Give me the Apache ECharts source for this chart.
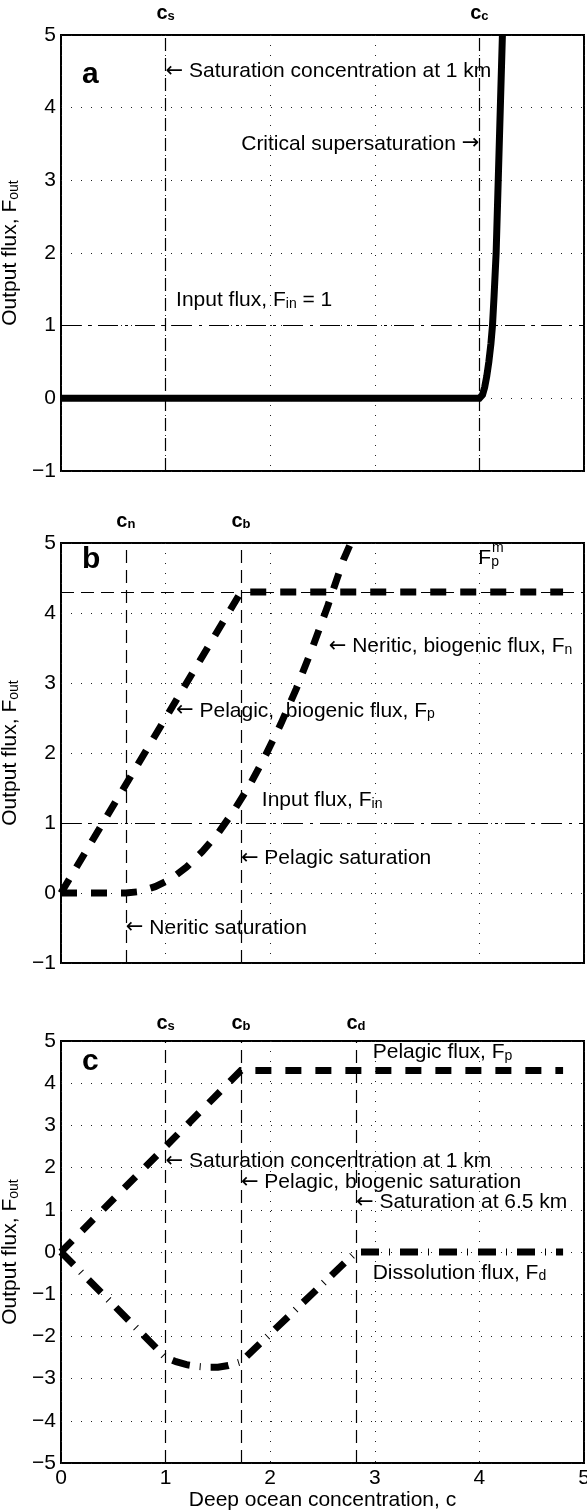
<!DOCTYPE html>
<html>
<head>
<meta charset="utf-8">
<script src="https://cdn.jsdelivr.net/npm/echarts@6/dist/echarts.min.js"></script>
<style>
  html, body { margin: 0; padding: 0; background: #fff; }
  #chart { width: 587px; height: 1510px; }
</style>
</head>
<body>
<div id="chart"></div>
<script>
// ---- values -------------------------------------------------------------
const xTicks = [0, 1, 2, 3, 4, 5];

// characteristic concentrations (x positions of the dashed markers)
const satConc1km = 1.0;     // c_s
const critConc = 4.0;       // c_c
const neriticSat = 0.62;    // c_n
const pelagicSat = 1.72;    // c_b
const deepSat = 2.82;       // c_d

// reference flux levels
const inputFlux = 1;
const pelagicMax = 4.3;     // F_p^m

// panel a: output flux with critical supersaturation
const critX = [0, 4.0, 4.03, 4.05, 4.07, 4.09, 4.11, 4.125, 4.14, 4.16, 4.18, 4.2, 4.22];
const critY = [0, 0, 0.05, 0.15, 0.3, 0.5, 0.75, 1.0, 1.4, 2.0, 3.0, 4.0, 5.0];

// panel b/c: pelagic biogenic flux
const pelagicX = [0, 1.72, 4.8];
const pelagicY = [0, 4.3, 4.3];

// panel b: neritic biogenic flux
const neriticX = [0, 0.62, 0.75, 0.9, 1.05, 1.2, 1.35, 1.5, 1.65, 1.8, 1.95, 2.1, 2.25, 2.4, 2.55, 2.7, 2.77];
const neriticY = [0, 0, 0.02, 0.09, 0.2, 0.37, 0.59, 0.85, 1.17, 1.53, 1.95, 2.41, 2.92, 3.49, 4.1, 4.76, 5.0];

// panel c: dissolution flux
const dissolX = [0, 0.5, 1.0, 1.1, 1.2, 1.3, 1.4, 1.5, 1.6, 1.72, 2.0, 2.3, 2.6, 2.82, 4.8];
const dissolY = [0, -1.25, -2.5, -2.6, -2.67, -2.71, -2.73, -2.73, -2.69, -2.6, -1.94, -1.23, -0.52, 0, 0];

// ---- styling ------------------------------------------------------------
const FONT = '"Liberation Sans", Arial, Helvetica, sans-serif';
const ARROW_FONT = '"DejaVu Sans", sans-serif';
const INK = '#000';
const L = 61, W = 523;
const panels = [
  { top: 35, height: 436, ymin: -1, ymax: 5 },
  { top: 543, height: 420, ymin: -1, ymax: 5 },
  { top: 1041, height: 422, ymin: -5, ymax: 5 }
];

const rich = {
  t: { fontSize: 21, lineHeight: 21, verticalAlign: 'top', fontFamily: FONT, color: INK },
  ar: { fontSize: 21, lineHeight: 21, verticalAlign: 'top', fontFamily: ARROW_FONT, color: INK },
  s: { fontSize: 14, lineHeight: 14, padding: [11, 0, 0, 0], verticalAlign: 'bottom', fontFamily: FONT, color: INK },
  m: { fontSize: 14, lineHeight: 14, fontFamily: FONT, color: INK },
  big: { fontSize: 30, fontWeight: 'bold', fontFamily: FONT, color: INK },
  hc: { fontSize: 20, lineHeight: 20, fontWeight: 'bold', verticalAlign: 'top', fontFamily: FONT, color: INK },
  hs: { fontSize: 13, lineHeight: 13, fontWeight: 'bold', padding: [10, 0, 0, 0], verticalAlign: 'bottom', fontFamily: FONT, color: INK }
};

const thinDash = [13, 7];
const dashDot = [20, 7, 3, 7];
const thickDash = [16, 14];
const thickDashDot = [18, 10, 1, 10];

const zip = (xs, ys) => xs.map((x, i) => [x, ys[i]]);
const minus = v => (v < 0 ? '\u2212' + Math.abs(v) : String(v));
const LEFT_ARROW = '{ar|\u2190}{t| }';
const RIGHT_ARROW = '{t| }{ar|\u2192}';

function vMarker(x, sub, gap) {
  return {
    xAxis: x,
    lineStyle: { type: thinDash, width: 1.2, color: INK },
    label: { show: true, position: 'end', distance: gap, formatter: '{hc|c}{hs|' + sub + '}', rich: rich }
  };
}
function hMarker(y, type) {
  return {
    yAxis: y,
    lineStyle: { type: type, width: 1.2, color: INK },
    label: { show: false }
  };
}

function notes(gridIdx, list) {
  return {
    type: 'scatter',
    xAxisIndex: gridIdx, yAxisIndex: gridIdx,
    symbolSize: 0,
    silent: true,
    z: 5,
    itemStyle: { opacity: 1 },
    data: list.map(n => ({
      value: [n[0], n[1]],
      label: {
        show: true, position: [0, 0], align: n[3], verticalAlign: 'middle',
        formatter: n[2], rich: rich
      }
    }))
  };
}

function curve(gridIdx, xs, ys, type, width, marks) {
  return {
    type: 'line',
    xAxisIndex: gridIdx, yAxisIndex: gridIdx,
    data: zip(xs, ys),
    symbol: 'none', showSymbol: false, silent: true, z: 4,
    lineStyle: { color: '#000', width: width, type: type, cap: 'butt', join: 'miter' },
    markLine: marks ? { symbol: ['none', 'none'], silent: true, z: 2, data: marks } : undefined
  };
}

// ---- annotation text (anchor x, anchor y, text, alignment) --------------
const notesA = [
  [0.2, 4.45, '{big|a}', 'left'],
  [satConc1km, 4.5, LEFT_ARROW + '{t|Saturation concentration at 1 km}', 'left'],
  [critConc, 3.5, '{t|Critical supersaturation}' + RIGHT_ARROW, 'right'],
  [1.1, 1.35, '{t|Input flux, F}{s|in}{t| = 1}', 'left']
];
const notesB = [
  [0.2, 4.76, '{big|b}', 'left'],
  [3.99, 4.78, '{t|F}{s|p}', 'left'],
  [4.12, 4.93, '{m|m}', 'left'],
  [2.56, 3.52, LEFT_ARROW + '{t|Neritic, biogenic flux, F}{s|n}', 'left'],
  [1.1, 2.6, LEFT_ARROW + '{t|Pelagic,  biogenic flux, F}{s|p}', 'left'],
  [1.92, 1.32, '{t|Input flux, F}{s|in}', 'left'],
  [pelagicSat, 0.49, LEFT_ARROW + '{t|Pelagic saturation}', 'left'],
  [neriticSat, -0.5, LEFT_ARROW + '{t|Neritic saturation}', 'left']
];
const notesC = [
  [0.2, 4.5, '{big|c}', 'left'],
  [2.98, 4.73, '{t|Pelagic flux, F}{s|p}', 'left'],
  [satConc1km, 2.14, LEFT_ARROW + '{t|Saturation concentration at 1 km}', 'left'],
  [pelagicSat, 1.65, LEFT_ARROW + '{t|Pelagic, biogenic saturation}', 'left'],
  [deepSat, 1.17, LEFT_ARROW + '{t|Saturation at 6.5 km}', 'left'],
  [2.98, -0.5, '{t|Dissolution flux, F}{s|d}', 'left']
];

// ---- axes ---------------------------------------------------------------
const grids = panels.map(p => ({
  left: L, width: W, top: p.top, height: p.height,
  show: true, borderColor: '#000', borderWidth: 2, backgroundColor: 'transparent',
  containLabel: false, outerBoundsMode: 'none'
}));

const dotted = { show: true, lineStyle: { color: '#222', width: 1, type: [1, 9] } };

const xAxes = panels.map((p, i) => ({
  type: 'value', gridIndex: i, min: xTicks[0], max: xTicks[xTicks.length - 1], interval: 1,
  axisLine: { show: false }, axisTick: { show: false },
  splitLine: dotted,
  axisLabel: {
    show: i === 2, fontSize: 21, fontFamily: FONT, color: INK, margin: 5,
    formatter: v => (xTicks.indexOf(v) >= 0 ? String(v) : '')
  },
  name: i === 2 ? 'Deep ocean concentration, c' : '',
  nameLocation: 'middle', nameGap: 25,
  nameTextStyle: { fontSize: 21, fontFamily: FONT, color: INK }
}));

const yAxes = panels.map((p, i) => ({
  type: 'value', gridIndex: i, min: p.ymin, max: p.ymax, interval: 1,
  axisLine: { show: false }, axisTick: { show: false },
  splitLine: dotted,
  axisLabel: { fontSize: 21, fontFamily: FONT, color: INK, margin: 5, formatter: minus },
  name: '{t|Output flux, F}{s|out}',
  nameLocation: 'middle', nameRotate: 90, nameGap: 25,
  nameTextStyle: { rich: rich }
}));

// ---- series -------------------------------------------------------------
const series = [
  curve(0, critX, critY, 'solid', 7, [
    vMarker(satConc1km, 's', 12), vMarker(critConc, 'c', 12), hMarker(inputFlux, dashDot)
  ]),
  notes(0, notesA),

  curve(1, pelagicX, pelagicY, thickDash, 7, [
    vMarker(neriticSat, 'n', 12), vMarker(pelagicSat, 'b', 12),
    hMarker(inputFlux, dashDot), hMarker(pelagicMax, thinDash)
  ]),
  curve(1, neriticX, neriticY, thickDash, 7, null),
  notes(1, notesB),

  curve(2, pelagicX, pelagicY, thickDash, 7, [
    vMarker(satConc1km, 's', 8), vMarker(pelagicSat, 'b', 8), vMarker(deepSat, 'd', 8)
  ]),
  curve(2, dissolX, dissolY, thickDashDot, 7, null),
  notes(2, notesC)
];

const chart = echarts.init(document.getElementById('chart'), null, { renderer: 'canvas' });
chart.setOption({
  animation: false,
  backgroundColor: '#fff',
  textStyle: { fontFamily: FONT, color: INK },
  grid: grids,
  xAxis: xAxes,
  yAxis: yAxes,
  series: series
});
</script>
</body>
</html>
